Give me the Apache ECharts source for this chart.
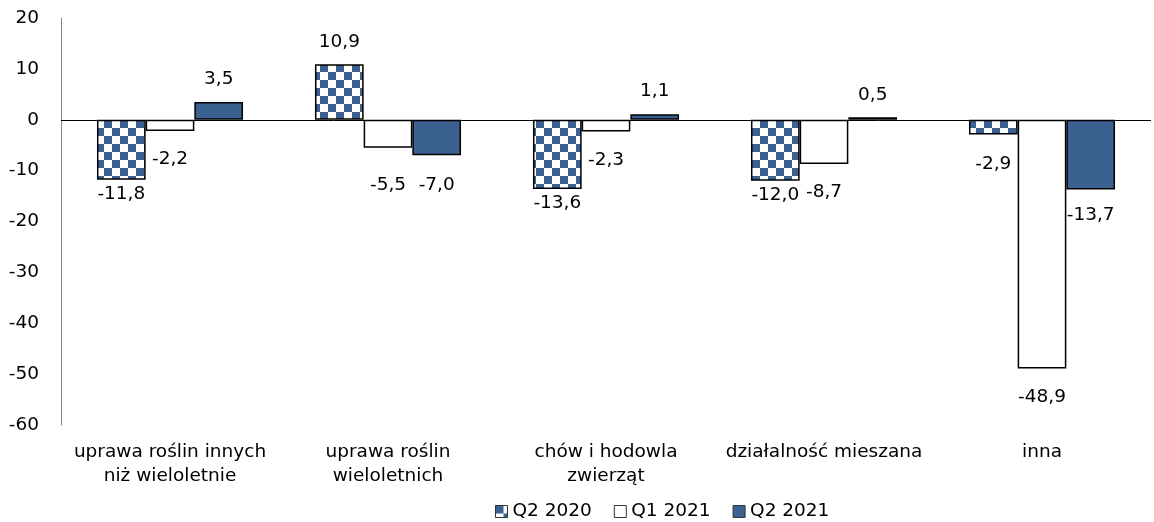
<!DOCTYPE html>
<html>
<head>
<meta charset="utf-8">
<script src="https://cdn.jsdelivr.net/npm/echarts@6/dist/echarts.min.js"></script>
<style>
  html, body { margin: 0; padding: 0; background: #fff; }
  #chart { width: 1154px; height: 522px; }
</style>
</head>
<body>
<div id="chart"></div>
<script>
// Categories and series values
const categories = [
  'uprawa roślin innych\nniż wieloletnie',
  'uprawa roślin\nwieloletnich',
  'chów i hodowla\nzwierząt',
  'działalność mieszana',
  'inna'
];
const seriesNames = ['Q2 2020', 'Q1 2021', 'Q2 2021'];
const q2_2020 = [-11.8, 10.9, -13.6, -12.0, -2.9];
const q1_2021 = [-2.2, -5.5, -2.3, -8.7, -48.9];
const q2_2021 = [3.5, -7.0, 1.1, 0.5, -13.7];
const yMin = -60, yMax = 20, yStep = 10;

// Style: gap between bar end and its value label (px)
const labelGap = [
  [5, 13, 5, 5, 20],
  [19, 28, 19, 19, 19],
  [13, 20, 13, 13, 16]
];

const BLUE = '#3B6191';
const FONT = '"DejaVu Sans", sans-serif';
const FS = 18.5;

function checkerTile() {
  const c = document.createElement('canvas');
  c.width = c.height = 16;
  const g = c.getContext('2d');
  g.fillStyle = '#ffffff';
  g.fillRect(0, 0, 16, 16);
  g.fillStyle = BLUE;
  g.fillRect(0, 0, 8, 8);
  g.fillRect(8, 8, 8, 8);
  return c;
}

const fmt = v => v.toFixed(1).replace('.', ',');

function makeData(values, gaps) {
  return values.map((v, i) => ({
    value: v,
    label: { position: v < 0 ? 'bottom' : 'top', distance: gaps[i] }
  }));
}

const fills = [
  { image: checkerTile(), repeat: 'repeat' },
  '#ffffff',
  BLUE
];
const valueSets = [q2_2020, q1_2021, q2_2021];

const series = valueSets.map((vals, s) => ({
  name: seriesNames[s],
  type: 'bar',
  data: makeData(vals, labelGap[s]),
  barGap: '0%',
  barCategoryGap: '33%',
  itemStyle: { color: fills[s], borderColor: '#000', borderWidth: 1.5 },
  label: {
    show: true,
    color: '#000',
    fontFamily: FONT,
    fontSize: FS,
    formatter: p => fmt(p.value)
  },
  markLine: s === 0 ? {
    silent: true,
    symbol: 'none',
    label: { show: false },
    lineStyle: { color: '#000', width: 1, type: 'solid' },
    data: [{ yAxis: 0 }]
  } : undefined
}));

const chart = echarts.init(document.getElementById('chart'), null, { renderer: 'canvas' });
chart.setOption({
  animation: false,
  backgroundColor: '#fff',
  grid: { left: 61, right: 3, top: 18, bottom: 97, containLabel: false },
  legend: {
    data: seriesNames,
    icon: 'rect',
    left: 490,
    top: 497,
    itemWidth: 12,
    itemHeight: 12,
    itemGap: 22,
    itemStyle: { borderColor: '#333', borderWidth: 1 },
    textStyle: { fontFamily: FONT, fontSize: FS, color: '#000' }
  },
  xAxis: {
    type: 'category',
    data: categories,
    axisLine: { show: false },
    axisTick: { show: false },
    axisLabel: {
      interval: 0,
      margin: 15,
      color: '#000',
      fontFamily: FONT,
      fontSize: FS,
      lineHeight: 24
    }
  },
  yAxis: {
    type: 'value',
    min: yMin,
    max: yMax,
    interval: yStep,
    splitLine: { show: false },
    axisTick: { show: false },
    axisLine: { show: true, lineStyle: { color: '#888', width: 1 } },
    axisLabel: {
      margin: 22,
      color: '#000',
      fontFamily: FONT,
      fontSize: FS
    }
  },
  series: series
});
</script>
</body>
</html>
